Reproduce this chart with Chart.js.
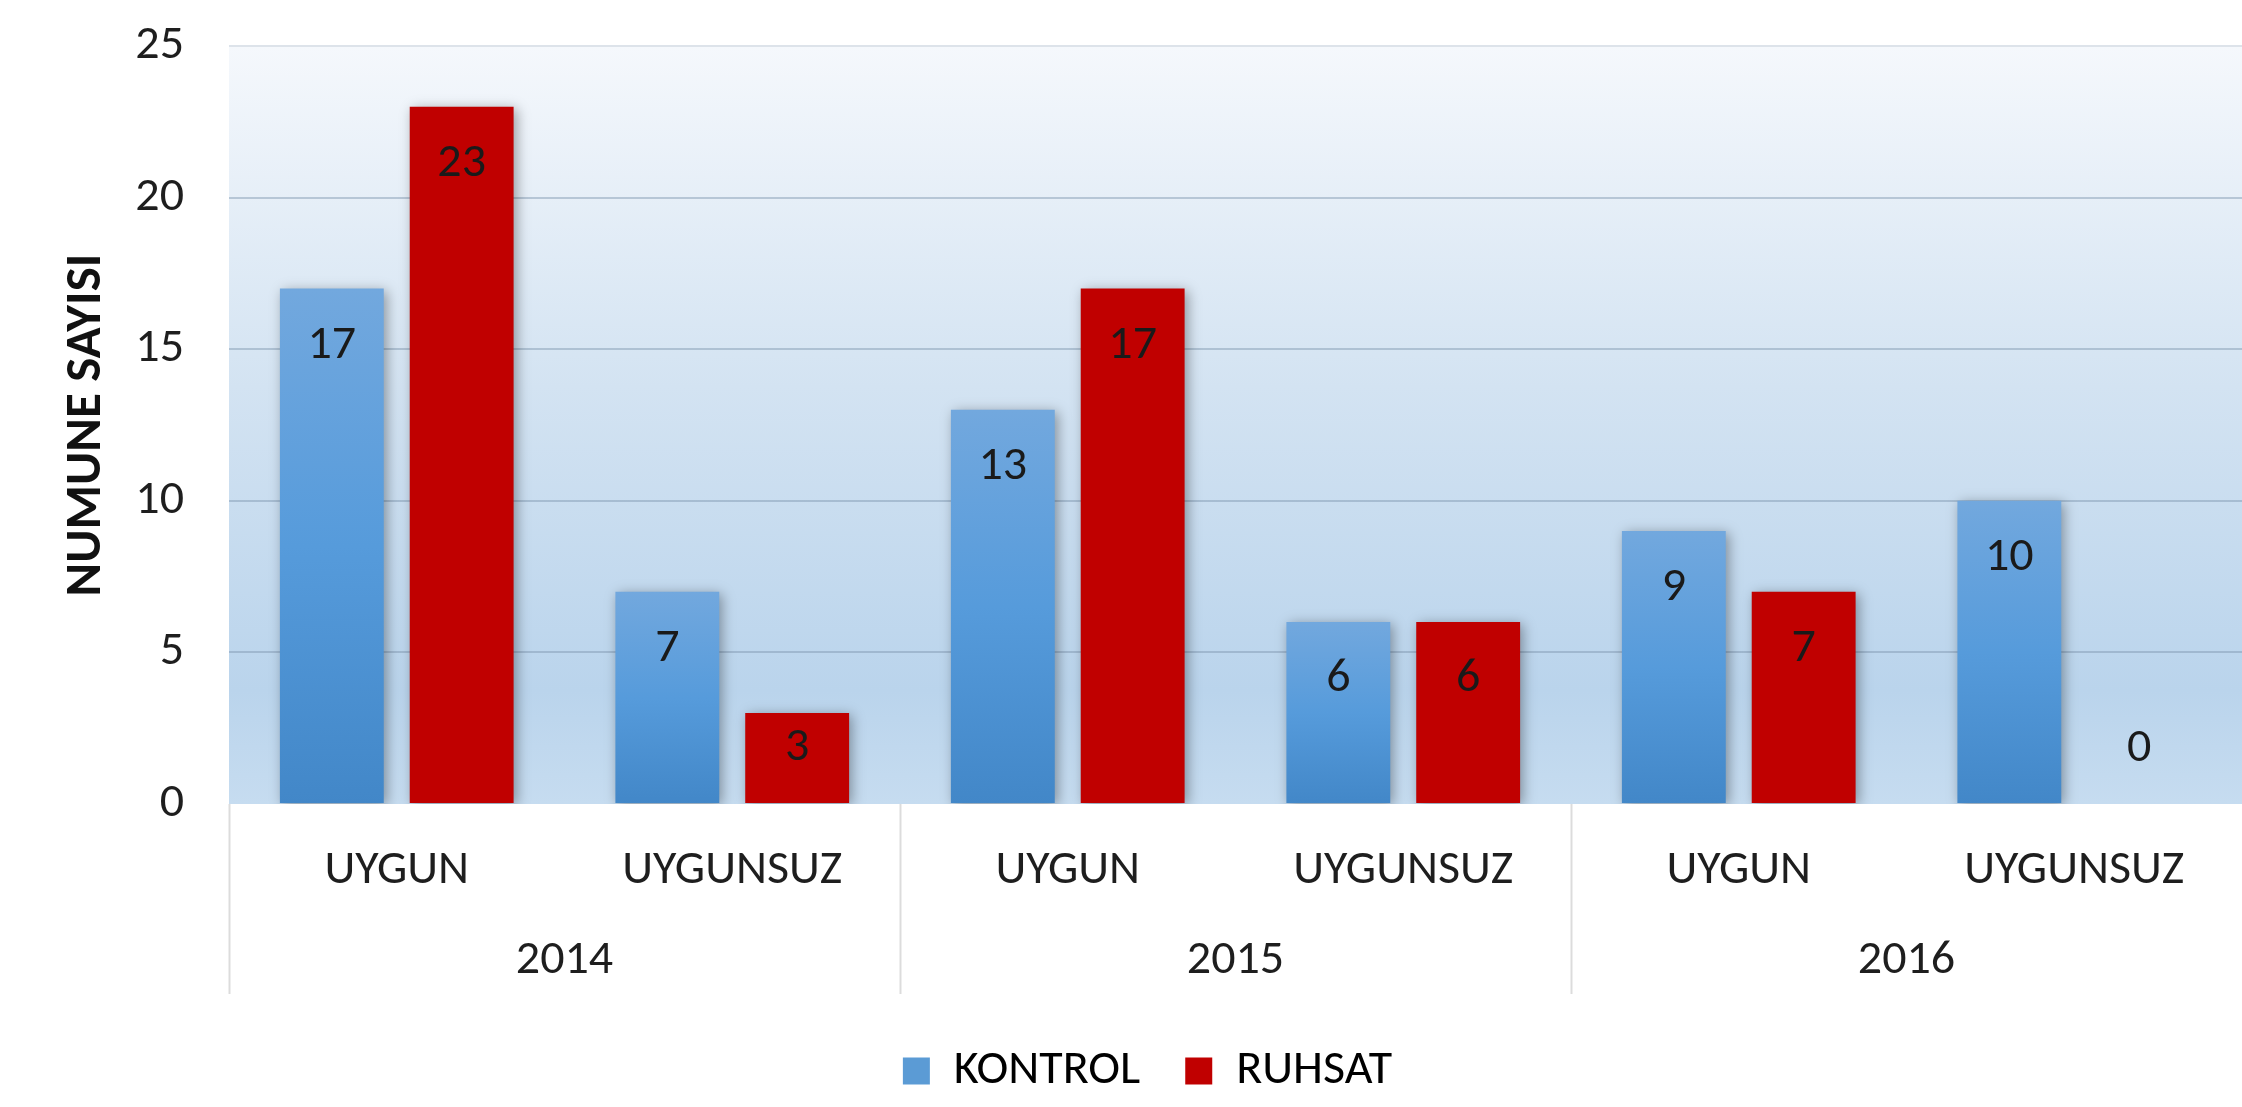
<!DOCTYPE html>
<html>
<head>
<meta charset="utf-8">
<script src="https://cdn.jsdelivr.net/npm/chart.js@4.4.1/dist/chart.umd.min.js"></script>
<style>
    html, body { margin: 0; padding: 0; background: #ffffff; }
    #wrap { width: 2242px; height: 1107px; }
</style>
</head>
<body>
<div id="wrap"><canvas id="chart"></canvas></div>
<script>
const categories = ['UYGUN', 'UYGUNSUZ', 'UYGUN', 'UYGUNSUZ', 'UYGUN', 'UYGUNSUZ'];
const years = ['2014', '2015', '2016'];
const kontrol = [17, 7, 13, 6, 9, 10];
const ruhsat = [23, 3, 17, 6, 7, 0];
const series_names = ['KONTROL', 'RUHSAT'];

Chart.defaults.font.family = 'Carlito, Lato, sans-serif';
Chart.defaults.font.size = 48;
Chart.defaults.color = '#1e1e1e';

function blue_bar(c) {
    const chart = c.chart;
    const y = chart.scales.y;
    if (!y || c.raw === undefined) {
        return '#5b9bd5';
    }
    const top = y.getPixelForValue(c.raw);
    const base = y.getPixelForValue(0);
    const g = chart.ctx.createLinearGradient(0, top, 0, Math.max(base, top + 1));
    g.addColorStop(0, '#72a8de');
    g.addColorStop(0.5, '#569bdb');
    g.addColorStop(1, '#4287c8');
    return g;
}

// plot background + bar shadows
const backdrop = {
    id: 'backdrop',
    beforeDraw(chart) {
        const a = chart.chartArea;
        const ctx = chart.ctx;
        const g = ctx.createLinearGradient(0, a.top, 0, a.bottom);
        g.addColorStop(0, '#f5f8fc');
        g.addColorStop(0.45, '#d3e3f2');
        g.addColorStop(0.85, '#bad4ec');
        g.addColorStop(1, '#c6dcf0');
        ctx.save();
        ctx.fillStyle = g;
        ctx.fillRect(a.left, a.top, a.right - a.left, a.bottom - a.top);
        ctx.restore();
    },
    beforeDatasetsDraw(chart) {
        const ctx = chart.ctx;
        ctx.save();
        ctx.shadowColor = 'rgba(0,0,0,0.35)';
        ctx.shadowBlur = 12;
        ctx.shadowOffsetX = 3;
        ctx.shadowOffsetY = 2;
    },
    afterDatasetsDraw(chart) {
        chart.ctx.restore();
    }
};

// value labels inside bar ends, and the year dividers under the axis
const labels_and_dividers = {
    id: 'labelsAndDividers',
    afterDatasetsDraw(chart) {
        const ctx = chart.ctx;
        ctx.save();
        ctx.font = '48px Carlito, Lato, sans-serif';
        ctx.fillStyle = '#1a1a1a';
        ctx.textAlign = 'center';
        ctx.textBaseline = 'middle';
        chart.data.datasets.forEach((ds, i) => {
            chart.getDatasetMeta(i).data.forEach((bar, j) => {
                const ty = Math.min(bar.y + 57, bar.base - 55);
                ctx.fillText(String(ds.data[j]), bar.x, ty);
            });
        });
        ctx.restore();
    },
    afterDraw(chart) {
        const x2 = chart.scales.x2;
        const a = chart.chartArea;
        const ctx = chart.ctx;
        const step = (x2.right - x2.left) / years.length;
        ctx.save();
        ctx.strokeStyle = '#dcdcdc';
        ctx.lineWidth = 2;
        for (let i = 0; i < years.length; i++) {
            const x = Math.round(x2.left + i * step) + 0.5;
            ctx.beginPath();
            ctx.moveTo(x, a.bottom);
            ctx.lineTo(x, a.bottom + 190);
            ctx.stroke();
        }
        ctx.restore();
    }
};

function print_chart(id) {
    const ctx = document.getElementById(id);
    new Chart(ctx, {
        type: 'bar',
        data: {
            labels: categories,
            datasets: [{
                label: series_names[0],
                data: kontrol,
                backgroundColor: blue_bar,
                borderWidth: 0
            }, {
                label: series_names[1],
                data: ruhsat,
                backgroundColor: '#c00000',
                borderWidth: 0
            }]
        },
        options: {
            responsive: true,
            maintainAspectRatio: false,
            animation: false,
            categoryPercentage: 0.774,
            barPercentage: 0.8,
            layout: {
                padding: { left: 53, top: 46, right: 0, bottom: 2 }
            },
            scales: {
                y: {
                    min: 0,
                    max: 25,
                    ticks: { stepSize: 5, padding: 5 },
                    border: { display: false },
                    grid: {
                        drawTicks: true,
                        tickLength: 40,
                        tickColor: 'rgba(0,0,0,0)',
                        lineWidth: 2,
                        color: (c) => c.tick.value === 0 ? 'rgba(0,0,0,0)' :
                            (c.tick.value === 25 ? '#dde3ea' : 'rgba(125,148,172,0.45)')
                    },
                    title: {
                        display: true,
                        text: 'NUMUNE SAYISI',
                        font: { size: 51, weight: 'bold' },
                        color: '#111111',
                        padding: { top: 4, bottom: 10 }
                    },
                    afterFit: (s) => { s.width = 176; }
                },
                x: {
                    border: { display: false },
                    grid: { display: false },
                    ticks: { autoSkip: false, maxRotation: 0, padding: 30 },
                    afterFit: (s) => { s.height = 89; }
                },
                x2: {
                    type: 'category',
                    position: 'bottom',
                    labels: years,
                    offset: true,
                    border: { display: false },
                    grid: { display: false },
                    ticks: { maxRotation: 0, padding: 31 },
                    afterFit: (s) => { s.height = 109; }
                }
            },
            plugins: {
                legend: {
                    position: 'bottom',
                    labels: {
                        boxWidth: 27,
                        boxHeight: 27,
                        padding: 45,
                        color: '#1e1e1e',
                        generateLabels: (chart) => chart.data.datasets.map((ds, i) => ({
                            text: ds.label,
                            fillStyle: i === 0 ? '#5b9bd5' : '#c00000',
                            strokeStyle: 'rgba(0,0,0,0)',
                            lineWidth: 0,
                            datasetIndex: i
                        }))
                    }
                },
                tooltip: { enabled: false }
            }
        },
        plugins: [backdrop, labels_and_dividers]
    });
}

print_chart('chart');
</script>
</body>
</html>
